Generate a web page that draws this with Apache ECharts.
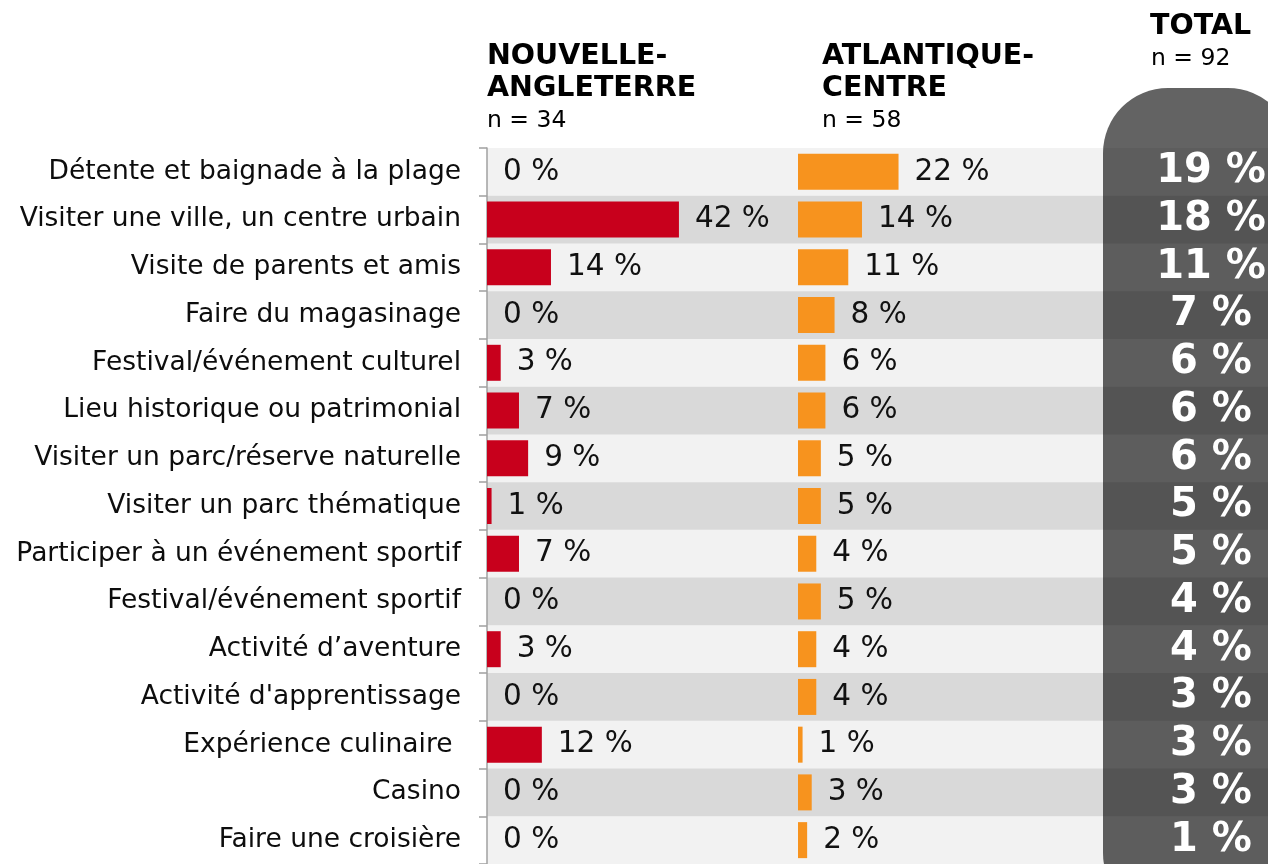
<!DOCTYPE html>
<html>
<head>
<meta charset="utf-8">
<script src="https://cdn.jsdelivr.net/npm/echarts@6/dist/echarts.min.js"></script>
<style>
  html, body { margin: 0; padding: 0; background: #ffffff; }
  #chart { width: 1268px; height: 864px; }
</style>
</head>
<body>
<div id="chart"></div>
<script>
// Activités pratiquées pendant le voyage, par région d'origine
const categories = [
  'Détente et baignade à la plage',
  'Visiter une ville, un centre urbain',
  'Visite de parents et amis',
  'Faire du magasinage',
  'Festival/événement culturel',
  'Lieu historique ou patrimonial',
  'Visiter un parc/réserve naturelle',
  'Visiter un parc thématique',
  'Participer à un événement sportif',
  'Festival/événement sportif',
  'Activité d’aventure',
  "Activité d'apprentissage",
  'Expérience culinaire ',
  'Casino',
  'Faire une croisière'
];
const nouvelleAngleterre = [0, 42, 14, 0, 3, 7, 9, 1, 7, 0, 3, 0, 12, 0, 0];
const atlantiqueCentre   = [22, 14, 11, 8, 6, 6, 5, 5, 4, 5, 4, 4, 1, 3, 2];
const total              = [19, 18, 11, 7, 6, 6, 6, 5, 5, 4, 4, 3, 3, 3, 1];

const headers = [
  { lines: ['NOUVELLE-', 'ANGLETERRE'], n: 'n = 34' },
  { lines: ['ATLANTIQUE-', 'CENTRE'], n: 'n = 58' },
  { lines: ['TOTAL'], n: 'n = 92' }
];

const FONT = '"DejaVu Sans", Verdana, sans-serif';
const PX_PER_PCT = 4.57;
const ROW_TOP = 148, ROW_H = 48;
const gridH = ROW_H * categories.length;
const COL1_X = 487, COL2_X = 798, TOT_X = 1103, W = 1268;

const chart = echarts.init(document.getElementById('chart'), null, { renderer: 'canvas' });

function valueLabel() {
  return {
    show: true, position: 'right', distance: 16,
    formatter: p => p.value + ' %',
    fontFamily: FONT, fontSize: 29.5, color: '#111',
    padding: [5, 0, 0, 0]
  };
}

const hiddenCat = (gi) => ({
  type: 'category', gridIndex: gi, data: categories, inverse: true,
  axisLine: { show: false }, axisTick: { show: false }, axisLabel: { show: false }
});

const headFont = 'bold 28.5px ' + FONT;
const nFont = '23.5px ' + FONT;
const graphics = [
  // rounded backdrop of the total column
  {
    type: 'rect', z: -10, silent: true,
    shape: { x: TOT_X, y: 88, width: 190, height: 830, r: 65 },
    style: { fill: '#636363' }
  },
  // column headers
  { type: 'text', x: COL1_X, y: 57, style: { text: headers[0].lines[0], font: headFont, fill: '#000', verticalAlign: 'middle' } },
  { type: 'text', x: COL1_X, y: 89, style: { text: headers[0].lines[1], font: headFont, fill: '#000', verticalAlign: 'middle' } },
  { type: 'text', x: COL1_X, y: 121, style: { text: headers[0].n, font: nFont, fill: '#000', verticalAlign: 'middle' } },
  { type: 'text', x: 822, y: 57, style: { text: headers[1].lines[0], font: headFont, fill: '#000', verticalAlign: 'middle' } },
  { type: 'text', x: 822, y: 89, style: { text: headers[1].lines[1], font: headFont, fill: '#000', verticalAlign: 'middle' } },
  { type: 'text', x: 822, y: 121, style: { text: headers[1].n, font: nFont, fill: '#000', verticalAlign: 'middle' } },
  { type: 'text', x: 1150, y: 27, style: { text: headers[2].lines[0], font: headFont, fill: '#000', verticalAlign: 'middle' } },
  { type: 'text', x: 1151, y: 59, style: { text: headers[2].n, font: nFont, fill: '#000', verticalAlign: 'middle' } }
];

const option = {
  animation: false,
  backgroundColor: '#ffffff',
  textStyle: { fontFamily: FONT },
  graphic: graphics,
  grid: [
    { left: COL1_X, top: ROW_TOP, width: W - COL1_X, height: gridH, containLabel: false },
    { left: COL2_X, top: ROW_TOP, width: W - COL2_X, height: gridH, containLabel: false },
    { left: 1154, top: ROW_TOP, width: 114, height: gridH, containLabel: false }
  ],
  xAxis: [
    { type: 'value', gridIndex: 0, min: 0, max: (W - COL1_X) / PX_PER_PCT, show: false },
    { type: 'value', gridIndex: 1, min: 0, max: (W - COL2_X) / PX_PER_PCT, show: false },
    { type: 'value', gridIndex: 2, min: 0, max: 1, show: false }
  ],
  yAxis: [
    {
      type: 'category', gridIndex: 0, data: categories, inverse: true,
      axisLine: { show: true, lineStyle: { color: '#a0a0a0', width: 1.5 } },
      axisTick: { show: true, length: 8, lineStyle: { color: '#a0a0a0', width: 1.5 } },
      axisLabel: {
        margin: 26, fontFamily: FONT, fontSize: 26.5, color: '#0d0d0d',
        verticalAlign: 'middle', padding: [6, 0, 0, 0]
      },
      splitArea: { show: true, areaStyle: { color: ['rgba(0,0,0,0.05)', 'rgba(0,0,0,0.15)'] } }
    },
    hiddenCat(1),
    hiddenCat(2)
  ],
  series: [
    {
      name: 'Nouvelle-Angleterre', type: 'bar', xAxisIndex: 0, yAxisIndex: 0,
      data: nouvelleAngleterre, barWidth: 36,
      itemStyle: { color: '#c8001c' }, label: valueLabel()
    },
    {
      name: 'Atlantique-Centre', type: 'bar', xAxisIndex: 1, yAxisIndex: 1,
      data: atlantiqueCentre, barWidth: 36,
      itemStyle: { color: '#f7931e' }, label: valueLabel()
    },
    {
      name: 'Total', type: 'scatter', xAxisIndex: 2, yAxisIndex: 2,
      symbolSize: 0,
      itemStyle: { color: 'transparent', opacity: 1 },
      data: total.map((v, i) => [0.5, i, v]),
      label: {
        show: true, position: 'inside', align: 'center', verticalAlign: 'middle',
        formatter: p => p.value[2] + ' %',
        fontFamily: FONT, fontSize: 40, fontWeight: 'bold', color: '#ffffff',
        textBorderWidth: 0, opacity: 1, padding: [5, 0, 0, 0]
      }
    }
  ]
};

chart.setOption(option);
</script>
</body>
</html>
